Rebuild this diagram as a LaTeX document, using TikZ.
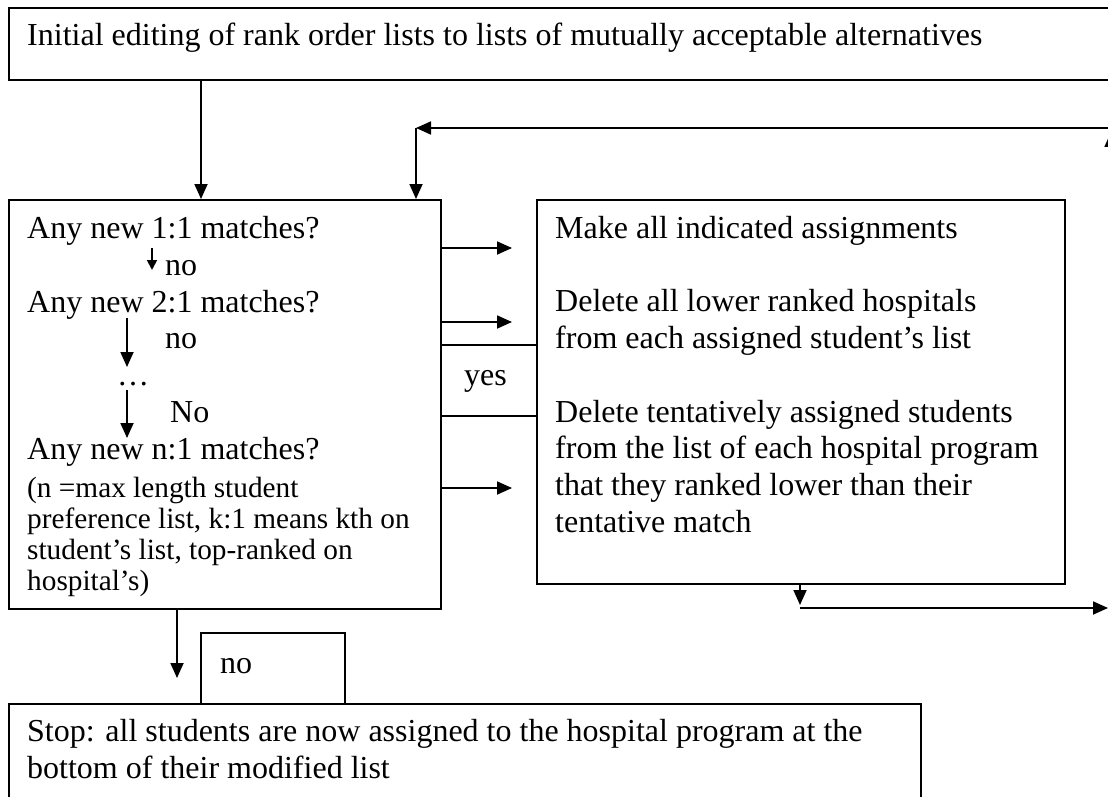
\documentclass[tikz,border=0pt]{standalone}
\usepackage{fontspec}
\setmainfont{Liberation Serif}
\usetikzlibrary{arrows.meta}
\begin{document}
\begin{tikzpicture}[x=1pt,y=-1pt,
  box/.style={draw, line width=1.8pt, rectangle, inner sep=0pt, anchor=north west},
  txt/.style={anchor=base west, inner sep=0pt, font=\fontsize{32}{36.8}\selectfont},
  smalltxt/.style={anchor=base west, inner sep=0pt, font=\fontsize{29.3}{30.5}\selectfont},
  arr/.style={line width=1.8pt, -{Triangle[length=15pt,width=13pt]}},
  tinyarr/.style={line width=1.8pt, -{Triangle[length=10pt,width=10pt]}}]
\useasboundingbox (0,0) rectangle (1108,797);
\clip (0,0) rectangle (1108,797);

% boxes
\node[box, minimum width=1210pt, minimum height=72pt] (top) at (8,7) {};
\node[box, minimum width=432pt, minimum height=409pt] (left) at (8,199) {};
\node[box, minimum width=528pt, minimum height=384pt] (right) at (536,199) {};
\node[box, minimum width=96pt, minimum height=71pt] (yesbox) at (440,344) {};
\node[box, minimum width=144pt, minimum height=71pt] (nobox) at (200,632) {};
\node[box, minimum width=912pt, minimum height=200pt] (stop) at (8,703) {};

% texts
\node[txt] (t0) at (27,46) {Initial editing of rank order lists to lists of mutually acceptable alternatives};

\node[txt] (l1) at (27,238.6) {Any new 1:1 matches?};
\node[txt] (l2) at (165,275) {no};
\node[txt] (l3) at (27,312) {Any new 2:1 matches?};
\node[txt] (l4) at (165,348) {no};
\node[txt] (l5) at (117,385) {…};
\node[txt] (l6) at (170,422) {No};
\node[txt] (l7) at (27,459) {Any new n:1 matches?};
\begin{scope}
\clip (8,199) rectangle (440,596);
\node[smalltxt] (s1) at (27,497.5) {(n =max length student};
\node[smalltxt] (s2) at (27,528.5) {preference list, k:1 means kth on};
\node[smalltxt] (s3) at (27,559.5) {student’s list, top-ranked on};
\node[smalltxt] (s4) at (27,590.5) {hospital’s)};
\end{scope}

\node[txt] (r1) at (555,238.6) {Make all indicated assignments};
\node[txt] (r2) at (555,311.6) {Delete all lower ranked hospitals};
\node[txt] (r3) at (555,348.4) {from each assigned student’s list};
\node[txt] (r4) at (555,422) {Delete tentatively assigned students};
\node[txt] (r5) at (555,458.8) {from the list of each hospital program};
\node[txt] (r6) at (555,495.6) {that they ranked lower than their};
\node[txt] (r7) at (555,532.4) {tentative match};

\node[txt] (yes) at (464,385) {yes};
\node[txt] (no) at (220,673) {no};
\node[txt] (b1) at (27,741.6) {Stop: all students are now assigned to the hospital program at the};
\node[txt] (b2) at (27,778.4) {bottom of their modified list};

% coordinates
\coordinate (c1) at (201,0);
\coordinate (fb) at (416,128);
\coordinate (fbR) at (1108,128);
\coordinate (upB) at (1111,608);
\coordinate (upT) at (1111,132);
\coordinate (rd) at (800,605);
\coordinate (rl) at (800,608);
\coordinate (rlR) at (1108,608);
\coordinate (a1s) at (152,248);
\coordinate (a1e) at (152,270);
\coordinate (a2s) at (127,318);
\coordinate (a2e) at (127,367);
\coordinate (a3s) at (127,390);
\coordinate (a3e) at (127,438);
\coordinate (h1) at (512,248);
\coordinate (h2) at (512,322);
\coordinate (h3) at (512,488);
\coordinate (dn) at (177,678);

% connectors
\draw[arr] (top.south -| c1) -- (left.north -| c1);
\draw[arr] (fbR) -- (fb);
\draw[arr] (fb) -- (left.north -| fb);
\draw[arr] (upB) -- (upT);
\draw[arr] (right.south -| rd) -- (rd);
\draw[arr] (rl) -- (rlR);
\draw[tinyarr] (a1s) -- (a1e);
\draw[arr] (a2s) -- (a2e);
\draw[arr] (a3s) -- (a3e);
\draw[arr] (left.east |- h1) -- (h1);
\draw[arr] (left.east |- h2) -- (h2);
\draw[arr] (left.east |- h3) -- (h3);
\draw[arr] (left.south -| dn) -- (dn);
\end{tikzpicture}
\end{document}
